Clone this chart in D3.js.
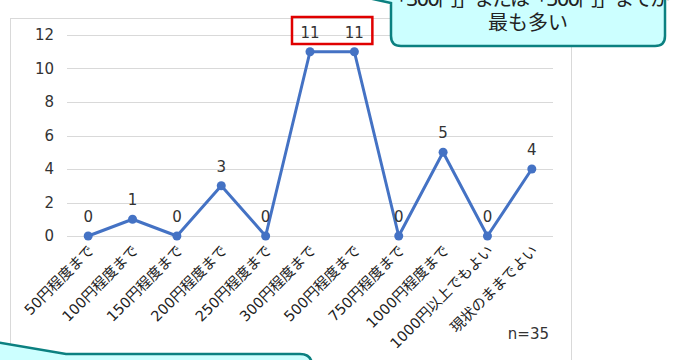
<!DOCTYPE html>
<html>
<head>
<meta charset="utf-8">
<script src="https://cdn.jsdelivr.net/npm/d3@7"></script>
<style>
  body { margin: 0; background: #fff; }
  svg { display: block; font-family: "DejaVu Sans", "Noto Sans CJK JP", sans-serif; }
</style>
</head>
<body>
<div id="chart"></div>
<script>
// 料金の許容範囲（回答数）
var categories = ["50円程度まで", "100円程度まで", "150円程度まで", "200円程度まで", "250円程度まで",
                  "300円程度まで", "500円程度まで", "750円程度まで", "1000円程度まで", "1000円以上でもよい", "現状のままでよい"];
var values = [0, 1, 0, 3, 0, 11, 11, 0, 5, 0, 4];
var yTicks = [0, 2, 4, 6, 8, 10, 12];
var highlighted = ["300円程度まで", "500円程度まで"];
var calloutLines = ["「300円」または「500円」までが", "最も多い"];
var sampleNote = "n=35";

var width = 679, height = 360;

var svg = d3.select("#chart")
  .append("svg")
  .attr("width", width)
  .attr("height", height);

// chart frame
svg.append("rect")
  .attr("x", 10.5).attr("y", 18.5)
  .attr("width", 561).attr("height", 360)
  .attr("fill", "#fff")
  .attr("stroke", "#d9d9d9");

var x = d3.scaleBand()
  .domain(categories)
  .range([66, 554]);

var y = d3.scaleLinear()
  .domain([0, 12])
  .range([236, 35]);

// gridlines
svg.append("g")
  .selectAll("line")
  .data(yTicks)
  .enter()
  .append("line")
  .attr("x1", 67).attr("x2", 553)
  .attr("y1", d => Math.round(y(d)) + 0.5)
  .attr("y2", d => Math.round(y(d)) + 0.5)
  .attr("stroke", "#d9d9d9")
  .attr("stroke-width", 1);

// y axis labels
var yAxis = svg.append("g")
  .attr("transform", "translate(54,0)")
  .call(d3.axisLeft(y).tickValues(yTicks).tickSize(0).tickPadding(0));
yAxis.select(".domain").remove();
yAxis.selectAll("text")
  .attr("font-size", 15)
  .attr("fill", "#333")
  .attr("font-family", "'DejaVu Sans', sans-serif");

// x axis labels (rotated)
var cx = d => x(d) + x.bandwidth() / 2;
svg.append("g")
  .selectAll("text")
  .data(categories)
  .enter()
  .append("text")
  .attr("transform", d => "translate(" + (cx(d) + 3) + ",248) rotate(-45)")
  .attr("text-anchor", "end")
  .attr("dy", "0.35em")
  .attr("font-size", 14.5)
  .attr("fill", "#222")
  .text(d => d);

// line
var line = d3.line()
  .x((d, i) => cx(categories[i]))
  .y(d => y(d));

svg.append("path")
  .datum(values)
  .attr("d", line)
  .attr("fill", "none")
  .attr("stroke", "#4472c4")
  .attr("stroke-width", 3)
  .attr("stroke-linejoin", "round");

svg.append("g")
  .selectAll("circle")
  .data(values)
  .enter()
  .append("circle")
  .attr("cx", (d, i) => cx(categories[i]))
  .attr("cy", d => y(d))
  .attr("r", 4.5)
  .attr("fill", "#4472c4");

// data labels
svg.append("g")
  .selectAll("text")
  .data(values)
  .enter()
  .append("text")
  .attr("x", (d, i) => cx(categories[i]))
  .attr("y", d => y(d) - 14)
  .attr("text-anchor", "middle")
  .attr("font-size", 15)
  .attr("fill", "#333")
  .text(d => d);

// red highlight box around the top two labels
var hx0 = cx(highlighted[0]) - 18, hx1 = cx(highlighted[1]) + 18;
svg.append("rect")
  .attr("x", hx0).attr("y", 17)
  .attr("width", hx1 - hx0).attr("height", 27)
  .attr("fill", "none")
  .attr("stroke", "#e00000")
  .attr("stroke-width", 2.5);

svg.append("text")
  .attr("x", 549).attr("y", 339)
  .attr("text-anchor", "end")
  .attr("font-size", 15)
  .attr("fill", "#333")
  .text(sampleNote);

// callouts
var calloutFill = "#ccffff", calloutStroke = "#0b8080";

svg.append("path")
  .attr("d", "M391,-10 L391,36 Q391,46 401,46 L655,46 Q665,46 665,36 L665,-10 Z M391,3 L350,-6 L391,-6 Z")
  .attr("fill", calloutFill)
  .attr("stroke", "none");
svg.append("path")
  .attr("d", "M350,-6 L391,3 L391,36 Q391,46 401,46 L655,46 Q665,46 665,36 L665,-10")
  .attr("fill", "none")
  .attr("stroke", calloutStroke)
  .attr("stroke-width", 2.5);

svg.append("g")
  .selectAll("text")
  .data(calloutLines)
  .enter()
  .append("text")
  .attr("x", 528)
  .attr("y", (d, i) => 6 + i * 24)
  .attr("text-anchor", "middle")
  .attr("font-size", 20)
  .attr("fill", "#222")
  .attr("letter-spacing", (d, i) => i === 0 ? -2 : 0)
  .text(d => d);

svg.append("path")
  .attr("d", "M-10,341 L66,354 L300,354 Q312,354 312,366 L312,380 L-10,380 Z")
  .attr("fill", calloutFill)
  .attr("stroke", "none");
svg.append("path")
  .attr("d", "M-10,341 L66,354 L300,354 Q312,354 312,366")
  .attr("fill", "none")
  .attr("stroke", calloutStroke)
  .attr("stroke-width", 2.5);
</script>
</body>
</html>
